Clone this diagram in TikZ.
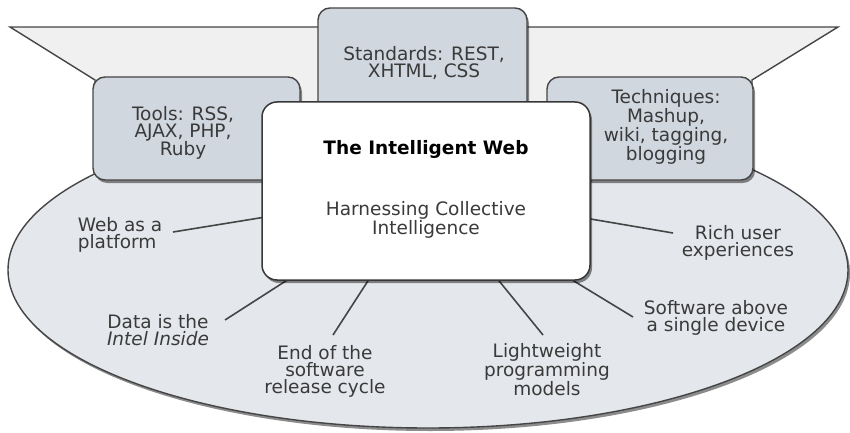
\documentclass[tikz,border=0pt]{standalone}
\usepackage{fontspec}
\setmainfont{DejaVu Sans}
\usetikzlibrary{shadows}
\definecolor{boxfill}{HTML}{D0D7DF}
\definecolor{ellfill}{HTML}{E4E7EC}
\definecolor{trapfill}{HTML}{F1F0F0}
\definecolor{edgec}{HTML}{454545}
\definecolor{txt}{HTML}{3A3A3A}
\begin{document}
\begin{tikzpicture}[x=1pt,y=-1pt,
  shad/.style={drop shadow={shadow xshift=2pt,shadow yshift=-3pt,opacity=.45,fill=black}},
  topbox/.style={draw=edgec,line width=1.4pt,fill=boxfill,rounded corners=12pt,shad,inner sep=0pt},
  lbl/.style={text=txt,font=\fontsize{18.5}{17}\selectfont,align=center,inner sep=0pt},
  conn/.style={draw=edgec,line width=1.6pt}]
\useasboundingbox (0,0) rectangle (850,433);
% base ellipse
\path[draw=edgec,line width=1.4pt,fill=ellfill,shad] (428,270) ellipse [x radius=420pt,y radius=158pt];
% top funnel
\path[fill=trapfill,draw=edgec,line width=1.4pt] (10,27) -- (838,27) -- (752,80) -- (752,115) -- (95,115) -- (95,80) -- cycle;
% top boxes
\node[topbox,minimum width=209pt,minimum height=110pt] (std) at (422.5,63) {};
\node[topbox,minimum width=207pt,minimum height=103pt] (tools) at (196.5,128.5) {};
\node[topbox,minimum width=206pt,minimum height=103pt] (tech) at (650,128.5) {};
\node[lbl] (stdT) at (424,63) {Standards: REST,\\XHTML, CSS};
\node[lbl] (toolsT) at (183,133) {Tools: RSS,\\AJAX, PHP,\\Ruby};
\node[lbl] (techT) at (666,127) {Techniques:\\Mashup,\\wiki, tagging,\\blogging};
% labels
\node[lbl,align=left] (web) at (120,235) {Web as a\\platform};
\node[lbl] (data) at (158,330) {Data is the\\{\itshape Intel Inside}};
\node[lbl] (endc) at (325,371) {End of the\\software\\release cycle};
\node[lbl] (light) at (547,370) {Lightweight\\programming\\models};
\node[lbl] (soft) at (716,318) {Software above\\a single device};
\node[lbl] (rich) at (738,243) {Rich user\\experiences};
% connector start points
\coordinate (webL) at (173,232);
\coordinate (dataL) at (225,320);
\coordinate (endcL) at (333,335);
\coordinate (lightL) at (543,335);
\coordinate (softL) at (633,317);
\coordinate (richL) at (673,233);
% main box position (for connectors)
\coordinate (mainC) at (426,191);
\draw[conn] (webL) -- (mainC);
\draw[conn] (dataL) -- (mainC);
\draw[conn] (endcL) -- (mainC);
\draw[conn] (lightL) -- (mainC);
\draw[conn] (softL) -- (mainC);
\draw[conn] (richL) -- (mainC);
% main box
\node[draw=edgec!80!black,line width=1.5pt,fill=white,rounded corners=15pt,minimum width=328pt,minimum height=178pt,inner sep=0pt,shad] (main) at (mainC) {};
\node[font=\bfseries\fontsize{18.5}{17}\selectfont,text=black,inner sep=0pt] (title) at (426,149) {The Intelligent Web};
\node[lbl] (sub) at (426,220) {Harnessing Collective\\Intelligence};
\end{tikzpicture}
\end{document}
